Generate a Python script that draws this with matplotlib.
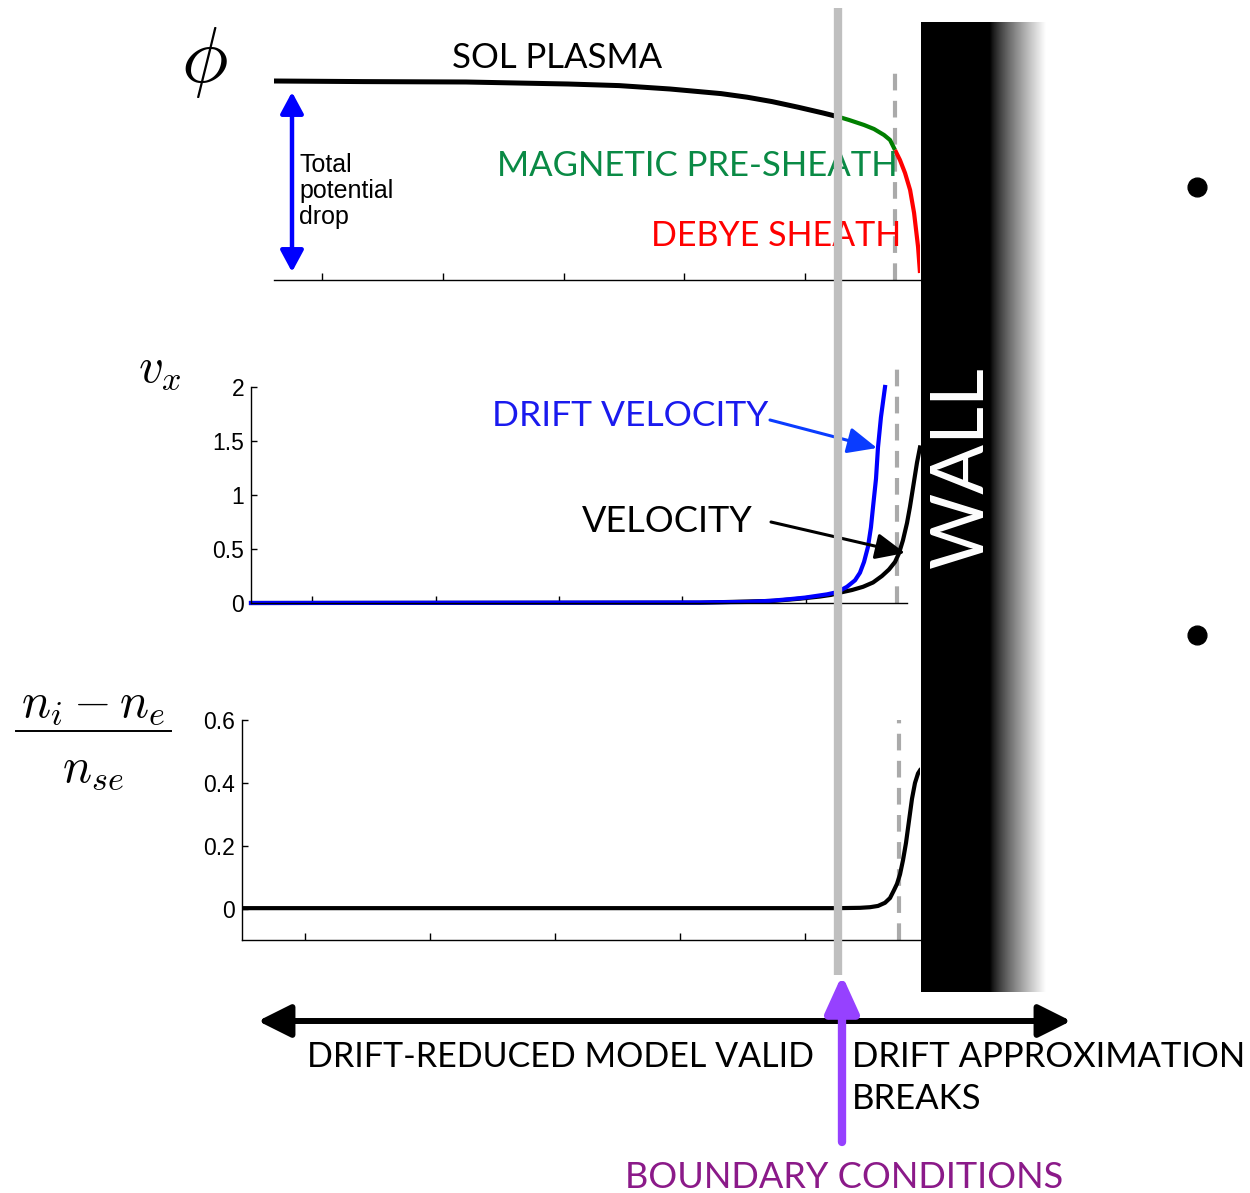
import matplotlib
matplotlib.use("Agg")
import matplotlib.pyplot as plt
import numpy as np
from matplotlib.patches import FancyArrowPatch, Rectangle, ArrowStyle

plt.rcParams["mathtext.fontset"] = "cm"

W, H = 1250, 1193
CAP = "Lato"
SANS = "Liberation Sans"

# ---- data ----
# potential phi (normalised), panel 1
sol_x = [0.602, 1.348, 2.193, 3.037, 3.460, 3.882, 4.304, 4.520, 4.727, 4.942, 5.149, 5.282]
sol_phi = [0.995, 0.992, 0.99, 0.98, 0.972, 0.955, 0.932, 0.914, 0.892, 0.864, 0.835, 0.815]
mps_x = [5.282, 5.365, 5.489, 5.571, 5.654, 5.704, 5.745]
mps_phi = [0.815, 0.80, 0.775, 0.755, 0.725, 0.70, 0.65]
debye_x = [5.745, 5.786, 5.828, 5.870, 5.903, 5.936, 5.952]
debye_phi = [0.65, 0.60, 0.535, 0.45, 0.335, 0.165, 0.035]
phi_ticks = [1, 2, 3, 4, 5]

# velocity, panel 2
drift_x = [0.506, 4.142, 4.530, 4.709, 4.862, 4.992, 5.081, 5.170, 5.251, 5.332,
           5.397, 5.437, 5.470, 5.502, 5.526, 5.543, 5.567, 5.583, 5.607, 5.640]
drift_v = [0.0, 0.005, 0.01, 0.02, 0.035, 0.05, 0.065, 0.08, 0.10, 0.15,
           0.21, 0.28, 0.38, 0.52, 0.70, 0.89, 1.15, 1.44, 1.72, 2.0]
vel_x = [0.506, 4.142, 4.741, 4.951, 5.113, 5.202, 5.291, 5.372, 5.462, 5.543,
         5.615, 5.672, 5.721, 5.753, 5.785, 5.818, 5.842, 5.874, 5.899, 5.923]
vel_v = [0.0, 0.003, 0.02, 0.04, 0.06, 0.075, 0.10, 0.12, 0.15, 0.19,
         0.25, 0.31, 0.38, 0.46, 0.58, 0.74, 0.89, 1.12, 1.30, 1.44]
v_ticks = [0, 0.5, 1, 1.5, 2]
v_ticklabels = ["0", "0.5", "1", "1.5", "2"]

# charge density, panel 3
rho_x = [0.496, 5.264, 5.44, 5.52, 5.584, 5.64, 5.68, 5.712, 5.736, 5.76,
         5.784, 5.808, 5.832, 5.856, 5.88, 5.904, 5.92]
rho = [0.003, 0.003, 0.004, 0.006, 0.01, 0.02, 0.035, 0.06, 0.08, 0.11,
       0.155, 0.21, 0.28, 0.35, 0.40, 0.43, 0.44]
rho_ticks = [0, 0.2, 0.4, 0.6]
rho_ticklabels = ["0", "0.2", "0.4", "0.6"]

# magnetic-presheath entrance (dashed) per panel
sheath_edge = [5.745, 5.737, 5.752]


def fig_rect(left, top, right, bottom):
    return [left / W, 1 - bottom / H, (right - left) / W, (bottom - top) / H]


fig = plt.figure(figsize=(W / 100, H / 100), dpi=100)

# ---- panel 1: potential ----
ax1 = fig.add_axes(fig_rect(274, 40, 920, 280))
ax1.plot(sol_x, sol_phi, color="black", lw=3.6, solid_capstyle="butt")
ax1.plot(mps_x, mps_phi, color="#007f00", lw=3.0, solid_capstyle="butt")
ax1.plot(debye_x, debye_phi, color="#ff0000", lw=3.0, solid_capstyle="butt")
ax1.plot([sheath_edge[0]] * 2, [0, 1.08], color="#aaaaaa", lw=3, dashes=(4, 2.5), zorder=0)
ax1.set_xlim(0.602, 5.952)
ax1.set_ylim(0, 1.2)
ax1.set_xticks(phi_ticks)
ax1.set_yticks([])

# ---- panel 2: velocity ----
ax2 = fig.add_axes(fig_rect(251, 363, 907, 603))
ax2.plot([sheath_edge[1]] * 2, [0, 2.222], color="#aaaaaa", lw=3, dashes=(4, 2.5), zorder=0)
ax2.plot(vel_x, vel_v, color="black", lw=3.0, clip_on=False)
ax2.plot(drift_x, drift_v, color="#0000ff", lw=3.0, clip_on=False)
ax2.set_xlim(0.506, 5.818)
ax2.set_ylim(0, 2.222)
ax2.set_xticks([1, 2, 3, 4, 5])
ax2.set_yticks(v_ticks)
ax2.set_yticklabels(v_ticklabels)
ax2.spines["left"].set_bounds(0, 2)

# ---- panel 3: charge density ----
ax3 = fig.add_axes(fig_rect(242, 700, 920, 940))
ax3.plot([sheath_edge[2]] * 2, [-0.098, 0.6], color="#aaaaaa", lw=3, dashes=(4, 2.5), zorder=0)
ax3.plot(rho_x, rho, color="black", lw=3.0)
ax3.set_xlim(0.496, 5.92)
ax3.set_ylim(-0.098, 0.663)
ax3.set_xticks([1, 2, 3, 4, 5])
ax3.set_yticks(rho_ticks)
ax3.set_yticklabels(rho_ticklabels)
ax3.spines["left"].set_bounds(-0.098, 0.6)

for ax in (ax1, ax2, ax3):
    ax.patch.set_alpha(0)
    ax.spines["top"].set_visible(False)
    ax.spines["right"].set_visible(False)
    for s in ax.spines.values():
        s.set_linewidth(1.0)
    ax.tick_params(axis="x", direction="in", length=5, width=1, labelbottom=False)
    ax.tick_params(axis="y", direction="in", length=4, width=1, pad=5,
                   labelsize=16.5, labelfontfamily=SANS)
ax1.spines["left"].set_visible(False)

# ---- overlay in pixel coordinates ----
ov = fig.add_axes([0, 0, 1, 1], zorder=10)
ov.set_xlim(0, W)
ov.set_ylim(H, 0)
ov.axis("off")
ov.patch.set_alpha(0)

# axis labels
ov.text(204, 62, r"$\phi$", fontsize=56, ha="center", va="center")
ov.text(160, 368, r"$v_x$", fontsize=35, ha="center", va="center")
ov.text(93, 703, r"$n_i - n_e$", fontsize=35, ha="center", va="center")
ov.plot([16, 171], [731, 731], color="black", lw=1.4)
ov.text(93, 768, r"$n_{se}$", fontsize=35, ha="center", va="center")

# panel 1 annotations
ov.add_patch(FancyArrowPatch((292, 272), (292, 92),
                             arrowstyle=ArrowStyle("<|-|>", head_length=13, head_width=7),
                             mutation_scale=1, lw=3.2, color="#0000ff",
                             shrinkA=0, shrinkB=0))
ov.text(299, 153, "Total\npotential\ndrop", fontsize=18, family=SANS,
        ha="left", va="top", linespacing=1.1)
ov.text(557, 58, "SOL PLASMA", fontsize=25, family=CAP, ha="center", va="center")
ov.text(898, 166, "MAGNETIC PRE-SHEATH", fontsize=25, family=CAP,
        color="#0a8a45", ha="right", va="center")
ov.text(901, 236, "DEBYE SHEATH", fontsize=24.5, family=CAP,
        color="#ff0000", ha="right", va="center")

# panel 2 annotations
ov.text(630, 416, "DRIFT VELOCITY", fontsize=25.5, family=CAP,
        color="#1a1aee", ha="center", va="center")
ov.add_patch(FancyArrowPatch((770, 420), (877, 448),
                             arrowstyle=ArrowStyle("-|>", head_length=18, head_width=8),
                             mutation_scale=1, lw=2.2, color="#0a3cff",
                             shrinkA=0, shrinkB=0))
ov.text(667, 522, "VELOCITY", fontsize=26, family=CAP, ha="center", va="center")
ov.add_patch(FancyArrowPatch((771, 522), (905, 553),
                             arrowstyle=ArrowStyle("-|>", head_length=18, head_width=8),
                             mutation_scale=1, lw=2.2, color="black",
                             shrinkA=0, shrinkB=0))

# boundary-condition line
ov.plot([838, 838], [8, 975], color="#bfbfbf", lw=6, solid_capstyle="butt", zorder=3)

# wall
ov.add_patch(Rectangle((921, 22), 70, 970, facecolor="black", edgecolor="none", zorder=4))
grad = np.linspace(0, 1, 256) ** 0.8
ov.imshow(grad[np.newaxis, :], cmap="gray", vmin=0, vmax=1, aspect="auto",
          extent=(990, 1046, 992, 22), zorder=4, interpolation="bilinear")
ov.set_xlim(0, W)
ov.set_ylim(H, 0)
ov.text(962, 467, "WALL", fontsize=53, family=CAP, color="white",
        rotation=90, ha="center", va="center", zorder=5)

# bullets on the right
ov.plot([1197, 1197], [187, 635], "o", color="black", markersize=13.5)

# bottom region arrow
ov.add_patch(FancyArrowPatch((258, 1021), (1071, 1021),
                             arrowstyle=ArrowStyle("<|-|>", head_length=20, head_width=10),
                             mutation_scale=1, lw=4.3, color="black",
                             shrinkA=0, shrinkB=0, zorder=3))
ov.text(307, 1057, "DRIFT-REDUCED MODEL VALID", fontsize=24.5, family=CAP,
        ha="left", va="center")
ov.text(852, 1057, "DRIFT APPROXIMATION", fontsize=25, family=CAP,
        ha="left", va="center")
ov.text(852, 1099, "BREAKS", fontsize=25, family=CAP, ha="left", va="center")

# boundary conditions arrow
ov.add_patch(FancyArrowPatch((842, 1142), (842, 975),
                             arrowstyle=ArrowStyle("-|>", head_length=22, head_width=10),
                             mutation_scale=1, lw=6, color="#9641ff",
                             shrinkA=0, shrinkB=0, zorder=6))
ov.text(844, 1177, "BOUNDARY CONDITIONS", fontsize=26, family=CAP,
        color="#8b1a89", ha="center", va="center")

fig.savefig("out.png", dpi=100)
